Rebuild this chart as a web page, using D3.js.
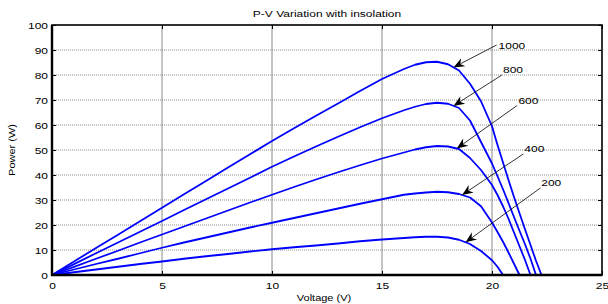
<!DOCTYPE html>
<html>
<head>
<meta charset="utf-8">
<script src="https://cdn.jsdelivr.net/npm/d3@7"></script>
<style>
  body { margin: 0; background: #fff; }
  svg { display: block; font-family: "Liberation Sans", Arial, sans-serif; }
</style>
</head>
<body>
<svg id="chart" width="608" height="304"></svg>
<script>
// P-V curves for several insolation levels (W/m2)
const voltage = [0, 1, 2, 3, 4, 5, 6, 7, 8, 9, 10, 11, 12, 13, 14, 15, 16,
  16.5, 17, 17.5, 18, 18.5, 19, 19.5, 20,
  20.25, 20.5, 20.75, 21, 21.25, 21.5, 21.75, 22, 22.25, 22.5,
  23, 24, 25];

const p1000 = [0, 5.4, 10.8, 16.1, 21.5, 26.9, 32.3, 37.6, 43, 48.3, 53.6, 58.7, 63.7, 68.6, 73.6, 78.4, 82.4,
  84.1, 85.1, 85.3, 84.3, 81.8, 76.5, 69.5, 59.5,
  52, 45, 38, 31.2, 24.7, 18.3, 12, 5.7, 0, 0,
  0, 0, 0];
const p800 = [0, 4.35, 8.7, 13, 17.3, 21.6, 26, 30.3, 34.6, 38.9, 43.3, 47.4, 51.4, 55.3, 59.1, 62.7, 65.9,
  67.3, 68.4, 68.9, 68.5, 66.8, 61.8, 53.2, 44.6,
  39.5, 34.3, 28.8, 23.2, 17.7, 12.3, 6.5, 0, 0, 0,
  0, 0, 0];
const p600 = [0, 3.25, 6.5, 9.7, 13, 16.2, 19.4, 22.6, 25.8, 29, 32.1, 35.2, 38.2, 41.1, 43.9, 46.6, 49,
  50.2, 51.1, 51.6, 51.4, 50.4, 46.8, 42, 36,
  32, 27.5, 22.5, 17, 11.5, 6, 0, 0, 0, 0,
  0, 0, 0];
const p400 = [0, 2.2, 4.4, 6.5, 8.7, 10.9, 13, 15, 17, 19, 20.9, 22.8, 24.7, 26.6, 28.5, 30.3, 32.1,
  32.6, 33, 33.3, 33.1, 32.4, 31, 27.5, 21,
  17.2, 13.3, 9, 4.5, 0, 0, 0, 0, 0, 0,
  0, 0, 0];
const p200 = [0, 1.1, 2.2, 3.3, 4.4, 5.4, 6.5, 7.5, 8.4, 9.4, 10.3, 11.1, 11.8, 12.6, 13.5, 14.2, 14.8,
  15.1, 15.3, 15.3, 15, 14.1, 12.4, 9.6, 5.9,
  3.3, 0, 0, 0, 0, 0, 0, 0, 0, 0,
  0, 0, 0];

const seriesNames = ["1000", "800", "600", "400", "200"];
const seriesValues = [p1000, p800, p600, p400, p200];

const xTicks = [0, 5, 10, 15, 20, 25];
const yTicks = [0, 10, 20, 30, 40, 50, 60, 70, 80, 90, 100];

// arrow labels: where the arrow hits the curve (voltage), the tail and the text, in data units
const arrowTipV  = [18.25, 18.25, 18.4, 18.64, 18.8];
const arrowTail  = [[20.21, 92], [20.45, 80], [21.14, 67.8], [21.42, 48.4], [22.2, 34.8]];
const arrowText  = [[20.3, 90.4], [20.5, 81], [21.2, 68.4], [21.47, 49.4], [22.24, 35.8]];

const TITLE = "P-V Variation with insolation";
const XLABEL = "Voltage (V)";
const YLABEL = "Power (W)";

// ---------- layout ----------
const L = 52, R = 602, T = 25, B = 275;
const SQ = 0.76;      // the picture's text is a bit flattened
const FS = 12;        // numbers and title
const FS_LAB = 11;    // axis titles

const svg = d3.select("#chart");
const x = d3.scaleLinear().domain([0, 25]).range([L, R]);
const y = d3.scaleLinear().domain([0, 100]).range([B, T]);

// grid
const grid = svg.append("g");
grid.selectAll("line.h").data(yTicks.slice(1, -1)).join("line")
  .attr("x1", L).attr("x2", R)
  .attr("y1", d => y(d)).attr("y2", d => y(d))
  .attr("stroke", "#8c8c8c").attr("stroke-width", 1).attr("stroke-dasharray", "1,1");
grid.selectAll("line.v").data(xTicks.slice(1, -1)).join("line")
  .attr("x1", d => x(d)).attr("x2", d => x(d))
  .attr("y1", T).attr("y2", B)
  .attr("stroke", "#8a8a8a").attr("stroke-width", 1);

// curves
const line = d3.line().x(d => x(d[0])).y(d => y(d[1]));
svg.append("g").selectAll("path").data(seriesValues).join("path")
  .attr("d", vals => line(voltage.map((v, i) => [v, vals[i]])))
  .attr("fill", "none").attr("stroke", "#0000ff").attr("stroke-width", 1.8)
  .attr("stroke-linejoin", "round");

// axes (inner ticks on all four sides, labels on left & bottom)
function flatten(sel, dx, dy, anchor) {
  sel.selectAll("text")
    .attr("x", null).attr("y", null).attr("dy", null)
    .attr("text-anchor", anchor)
    .attr("transform", `translate(${dx},${dy}) scale(1,${SQ})`)
    .attr("font-size", FS).attr("fill", "#000");
}

const gx = svg.append("g").attr("transform", `translate(0,${B})`)
  .call(d3.axisBottom(x).tickValues(xTicks).tickSize(-4).tickFormat(d3.format("d")));
flatten(gx, 0, 14, "middle");
const gy = svg.append("g").attr("transform", `translate(${L},0)`)
  .call(d3.axisLeft(y).tickValues(yTicks).tickSize(-4).tickFormat(d3.format("d")));
flatten(gy, -4, 3.3, "end");
const gt = svg.append("g").attr("transform", `translate(0,${T})`)
  .call(d3.axisTop(x).tickValues(xTicks).tickSize(-4).tickFormat(""));
const gr = svg.append("g").attr("transform", `translate(${R},0)`)
  .call(d3.axisRight(y).tickValues(yTicks).tickSize(-4).tickFormat(""));
[gx, gy, gt, gr].forEach(g => {
  g.select(".domain").remove();
  g.selectAll(".tick line").attr("stroke", "#000").attr("stroke-width", 1);
});

// box
svg.append("rect").attr("x", L).attr("y", T).attr("width", R - L).attr("height", B - T)
  .attr("fill", "none").attr("stroke", "#000").attr("stroke-width", 1.6);
svg.append("path")
  .attr("d", `M${L},${T} V${B} H${R}`)
  .attr("fill", "none").attr("stroke", "#000").attr("stroke-width", 2.4);

// arrows with labels
const ann = svg.append("g");
seriesValues.forEach((vals, i) => {
  const onCurve = d3.scaleLinear().domain(voltage).range(vals);
  const tx = x(arrowTipV[i]), ty = y(onCurve(arrowTipV[i]));
  const sx = x(arrowTail[i][0]), sy = y(arrowTail[i][1]);
  const a = Math.atan2(ty - sy, tx - sx);
  const len = 11, half = 4.5, notch = 7.5;
  const ux = Math.cos(a), uy = Math.sin(a), px = -uy, py = ux;
  const bx = tx - ux * len, by = ty - uy * len;
  const nx = tx - ux * notch, ny = ty - uy * notch;
  ann.append("line")
    .attr("x1", sx).attr("y1", sy).attr("x2", nx).attr("y2", ny)
    .attr("stroke", "#000").attr("stroke-width", 0.8);
  ann.append("path")
    .attr("d", `M${tx},${ty} L${bx + px * half},${by + py * half} L${nx},${ny} L${bx - px * half},${by - py * half} Z`)
    .attr("fill", "#000");
  ann.append("text")
    .attr("transform", `translate(${x(arrowText[i][0])},${y(arrowText[i][1])}) scale(1,${SQ})`)
    .attr("font-size", FS).attr("fill", "#000")
    .text(seriesNames[i]);
});

// titles
svg.append("text").attr("transform", `translate(${(L + R) / 2},17) scale(1,${SQ})`)
  .attr("text-anchor", "middle").attr("font-size", FS).text(TITLE);
svg.append("text").attr("transform", `translate(324,300.5) scale(1,0.8)`)
  .attr("text-anchor", "middle").attr("font-size", FS_LAB).text(XLABEL);
svg.append("text").attr("transform", `translate(15,${(T + B) / 2}) rotate(-90) scale(1,0.8)`)
  .attr("text-anchor", "middle").attr("font-size", FS_LAB).text(YLABEL);
</script>
</body>
</html>
